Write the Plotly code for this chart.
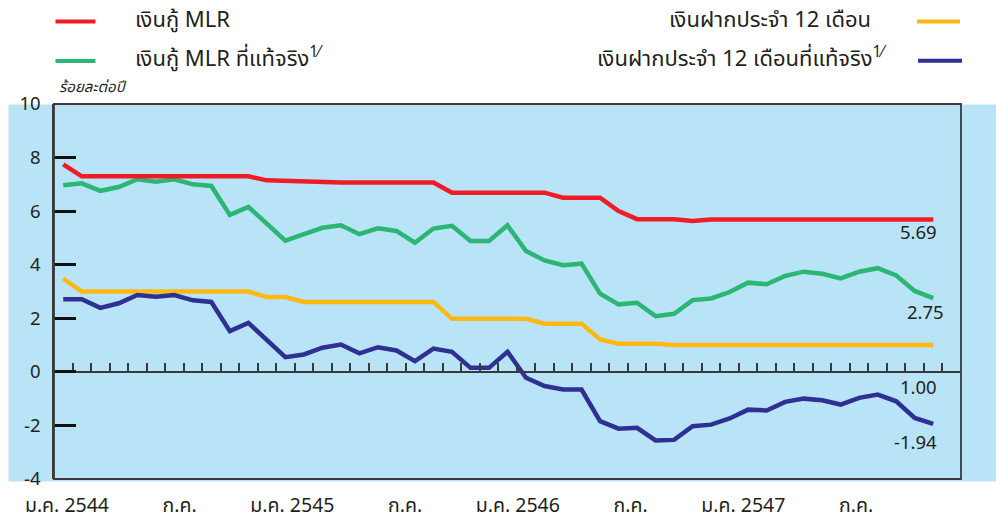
import plotly.graph_objects as go

# Monthly series, Jan 2544 .. Dec 2547 (48 months), percent per annum
month_idx = list(range(48))

mlr = [7.75, 7.30, 7.30, 7.30, 7.30, 7.30, 7.30, 7.30, 7.30, 7.30,
       7.30, 7.15, 7.13, 7.07, 7.07, 7.07, 7.07, 7.07, 7.07, 7.07,
       7.07, 6.69, 6.69, 6.69, 6.69, 6.69, 6.69, 6.50, 6.50, 6.50,
       6.00, 5.70, 5.70, 5.70, 5.63, 5.69, 5.69, 5.69, 5.69, 5.69,
       5.69, 5.69, 5.69, 5.69, 5.69, 5.69, 5.69, 5.69]

mlr_real = [6.97, 7.04, 6.76, 6.90, 7.19, 7.10, 7.19, 7.00, 6.94, 5.86,
            6.16, 5.55, 4.90, 5.14, 5.38, 5.47, 5.14, 5.36, 5.26, 4.82,
            5.35, 5.45, 4.89, 4.89, 5.47, 4.51, 4.16, 3.98, 4.04, 2.92,
            2.52, 2.58, 2.08, 2.17, 2.68, 2.74, 2.98, 3.33, 3.27, 3.58,
            3.74, 3.66, 3.49, 3.74, 3.87, 3.60, 3.02, 2.75]

dep12 = [3.48, 3.00, 3.00, 3.00, 3.00, 3.00, 3.00, 3.00, 3.00, 3.00,
         3.00, 2.79, 2.79, 2.61, 2.61, 2.61, 2.61, 2.61, 2.61, 2.61,
         2.61, 1.98, 1.98, 1.98, 1.98, 1.98, 1.80, 1.80, 1.80, 1.21,
         1.05, 1.05, 1.05, 1.00, 1.00, 1.00, 1.00, 1.00, 1.00, 1.00,
         1.00, 1.00, 1.00, 1.00, 1.00, 1.00, 1.00, 1.00]

dep12_real = [2.71, 2.71, 2.39, 2.56, 2.87, 2.80, 2.87, 2.67, 2.61, 1.52,
              1.83, 1.21, 0.55, 0.65, 0.90, 1.02, 0.69, 0.92, 0.80, 0.40,
              0.87, 0.75, 0.15, 0.15, 0.75, -0.22, -0.53, -0.66, -0.66, -1.84,
              -2.12, -2.09, -2.56, -2.54, -2.03, -1.97, -1.74, -1.41, -1.44, -1.12,
              -1.00, -1.06, -1.22, -0.97, -0.85, -1.10, -1.72, -1.94]

tick_months = [0, 6, 12, 18, 24, 30, 36, 42]
tick_text = ["ม.ค. 2544", "ก.ค.", "ม.ค. 2545", "ก.ค.", "ม.ค. 2546", "ก.ค.",
             "ม.ค. 2547", "ก.ค."]

series_names = ["เงินกู้ MLR", "เงินกู้ MLR ที่แท้จริง<sup>1⁄</sup>",
                "เงินฝากประจำ 12 เดือน", "เงินฝากประจำ 12 เดือนที่แท้จริง<sup>1⁄</sup>"]

RED, GREEN, YELLOW, NAVY = "#ee1c25", "#2bb673", "#fdb913", "#2e3192"
BG = "#b9e4f8"
AXIS = "#3a3a3a"
TXT = "#231f20"
FONT = "Noto Sans Thai, Noto Sans, Arial, sans-serif"

W, H = 996, 520
L, R, T, B = 53.5, 961, 104, 479   # plot frame in pixels


def px(xp):
    return (xp - L) / (R - L)


def py(yp):
    return (B - yp) / (B - T)


fig = go.Figure()
for vals, col in [(dep12, YELLOW), (dep12_real, NAVY), (mlr_real, GREEN), (mlr, RED)]:
    fig.add_trace(go.Scatter(x=month_idx, y=vals, mode="lines",
                             line=dict(color=col, width=4.5),
                             showlegend=False, hoverinfo="skip"))
# carrier for the bottom label axis
fig.add_trace(go.Scatter(x=[None], y=[None], xaxis="x2", showlegend=False,
                         hoverinfo="skip"))

label_pos = [m + 0.2 + 0.015 * m for m in tick_months]

fig.update_layout(
    width=W, height=H,
    margin=dict(l=L, r=W - R, t=T, b=H - B, pad=0, autoexpand=False),
    paper_bgcolor="white", plot_bgcolor=BG,
    font=dict(family=FONT, color=TXT, size=18),
    xaxis=dict(range=[-0.5, 48.5], anchor="free", position=4 / 14,
               tickvals=[i - 0.5 for i in range(50)], ticks="inside",
               ticklen=8, tickwidth=1.5, tickcolor=AXIS,
               showline=True, linecolor=AXIS, linewidth=1.5, automargin=False,
               showticklabels=False, showgrid=False, zeroline=False),
    xaxis2=dict(range=[-0.5, 48.5], overlaying="x", side="bottom", anchor="y",
                tickvals=label_pos, ticktext=tick_text, ticks="",
                ticklabelstandoff=12, showline=False, showgrid=False,
                zeroline=False, automargin=False,
                tickfont=dict(size=19.5, color=TXT)),
    yaxis=dict(range=[-4, 10], tickvals=list(range(-4, 11, 2)),
               ticks="inside", ticklen=22, tickwidth=2.5, tickcolor="#111",
               showline=True, linecolor=AXIS, linewidth=1.5, automargin=False,
               showgrid=False, zeroline=False, ticklabelstandoff=8,
               tickfont=dict(size=18.5, color=TXT)),
)

shapes = [
    # light-blue panel behind the frame and tick labels
    dict(type="rect", xref="paper", yref="paper", layer="below",
         x0=px(8), x1=px(996), y0=py(481.5), y1=py(104.5),
         fillcolor=BG, line=dict(width=0)),
    # frame
    dict(type="rect", xref="paper", yref="paper", layer="above",
         x0=0, x1=1, y0=0, y1=1, line=dict(color=AXIS, width=1.8)),
]
# legend keys
for x0, x1, y, col in [(55, 95, 21.5, RED), (55, 95, 61, GREEN),
                       (917, 960, 21.5, YELLOW), (918, 962, 60.7, NAVY)]:
    shapes.append(dict(type="line", xref="paper", yref="paper",
                       x0=px(x0), x1=px(x1), y0=py(y), y1=py(y),
                       line=dict(color=col, width=4)))
fig.update_layout(shapes=shapes)

ann = [
    dict(text=series_names[0], x=px(133), y=py(20), xanchor="left", yanchor="middle"),
    dict(text=series_names[1], x=px(133), y=py(59), xanchor="left", yanchor="middle"),
    dict(text=series_names[2], x=px(873), y=py(20), xanchor="right", yanchor="middle"),
    dict(text=series_names[3], x=px(888), y=py(59), xanchor="right", yanchor="middle"),
]
for a in ann:
    a.update(xref="paper", yref="paper", showarrow=False,
             font=dict(size=22, color=TXT, family=FONT))
ann.append(dict(text="<i>ร้อยละต่อปี</i>", x=px(57), y=py(87), xref="paper", yref="paper",
                xanchor="left", yanchor="middle", showarrow=False,
                font=dict(size=15, color=TXT, family=FONT)))

# end-of-series value labels
for vals, dx, dy in [(mlr, -15, -14), (mlr_real, -8, -15),
                     (dep12, -15, -43), (dep12_real, -18, -19)]:
    ann.append(dict(text=f"{vals[-1]:.2f}", x=month_idx[-1], y=vals[-1],
                    xref="x", yref="y", xshift=dx, yshift=dy, showarrow=False,
                    font=dict(size=18.5, color=TXT, family=FONT)))
fig.update_layout(annotations=ann)

fig.write_html("out.html")
